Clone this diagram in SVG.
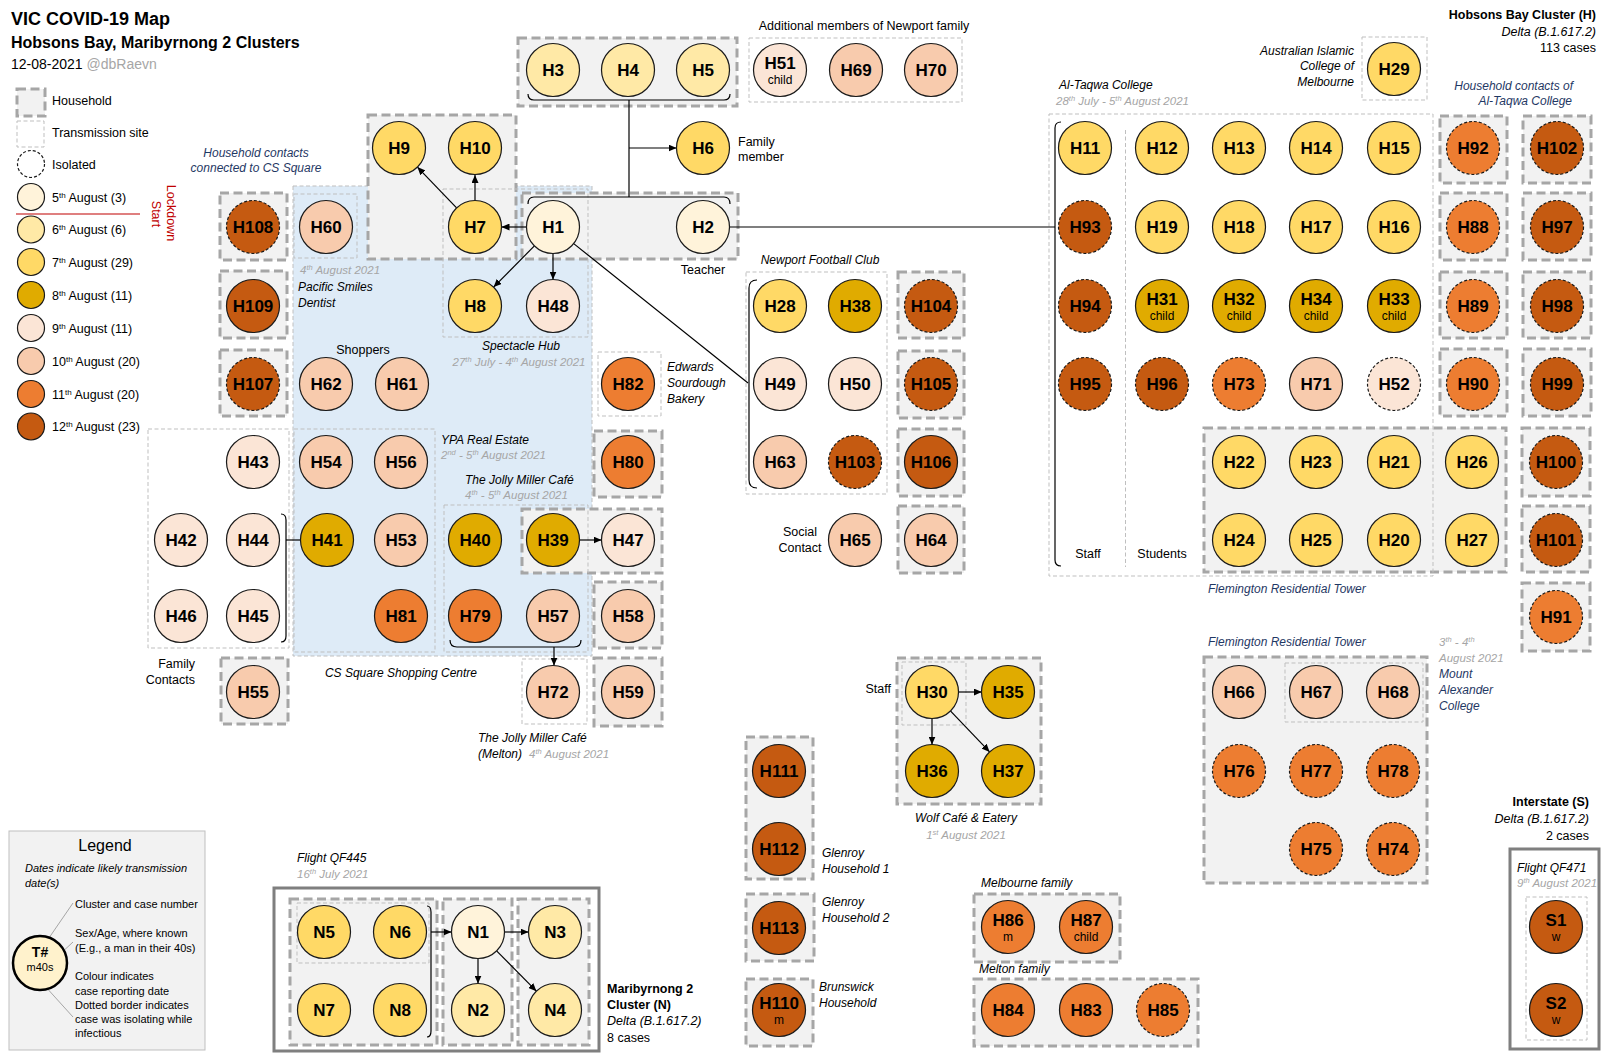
<svg xmlns="http://www.w3.org/2000/svg" width="1606" height="1058" viewBox="0 0 1606 1058">
<style>
text{font-family:"Liberation Sans",Arial,sans-serif;fill:#000}
.hh{fill:#F2F2F2;stroke:#A6A6A6;stroke-width:3;stroke-dasharray:9 4.5}
.ts{fill:none;stroke:#BFBFBF;stroke-width:1;stroke-dasharray:4 2.5}
.n{stroke:#1a1a1a;stroke-width:1.2}
.iso{stroke-dasharray:3 2}
.c5{fill:#FFF3DA}.c6{fill:#FFE9A6}.c7{fill:#FFD966}.c8{fill:#E0AB00}.c9{fill:#FBE5D6}.c10{fill:#F8CBAD}.c11{fill:#ED7D31}.c12{fill:#C55A11}
.t{font-size:17px;font-weight:bold;text-anchor:middle}
.s{font-size:12px;text-anchor:middle}
.l{font-size:12.5px}
.i{font-size:12px;font-style:italic}
.g{font-size:11.5px;font-style:italic;fill:#A6A6A6}
.nv{fill:#1F3864}
.mid{text-anchor:middle}.end{text-anchor:end}
.cn{fill:none;stroke:#000;stroke-width:1.2}
.ld{fill:none;stroke:#A6A6A6;stroke-width:1}
</style>
<defs>
<marker id="arr" viewBox="0 0 8 7" refX="8" refY="3.5" markerWidth="8" markerHeight="7" markerUnits="userSpaceOnUse" orient="auto"><path d="M0,0 L8,3.5 L0,7 z" fill="#000"/></marker>
</defs>
<rect width="1606" height="1058" fill="#fff"/>

<!-- Title -->
<g id="title">
<text x="11" y="25" font-size="18" font-weight="bold">VIC COVID-19 Map</text>
<text x="11" y="48" font-size="16" font-weight="bold">Hobsons Bay, Maribyrnong 2 Clusters</text>
<text x="11" y="69" font-size="14">12-08-2021 <tspan fill="#A6A6A6">@dbRaevn</tspan></text>
</g>

<!-- Top legend -->
<g id="legend-top">
<rect class="hh" x="17" y="89" width="28" height="27"/>
<text class="l" x="52" y="104.5">Household</text>
<rect class="ts" x="17" y="121" width="27" height="26"/>
<text class="l" x="52" y="136.5">Transmission site</text>
<circle cx="31" cy="164" r="13.5" fill="#fff" stroke="#1a1a1a" stroke-width="1.2" stroke-dasharray="3 2"/>
<text class="l" x="52" y="168.5">Isolated</text>
<circle class="n c5" cx="31" cy="197" r="13.5"/>
<text class="l" x="52" y="201.5">5<tspan dy="-4" font-size="8">th</tspan><tspan dy="4"> August (3)</tspan></text>
<line x1="16" y1="214" x2="140" y2="214" stroke="#C00000" stroke-width="1.2"/>
<circle class="n c6" cx="31" cy="229.5" r="13.5"/>
<text class="l" x="52" y="234">6<tspan dy="-4" font-size="8">th</tspan><tspan dy="4"> August (6)</tspan></text>
<circle class="n c7" cx="31" cy="262" r="13.5"/>
<text class="l" x="52" y="266.5">7<tspan dy="-4" font-size="8">th</tspan><tspan dy="4"> August (29)</tspan></text>
<circle class="n c8" cx="31" cy="295" r="13.5"/>
<text class="l" x="52" y="299.5">8<tspan dy="-4" font-size="8">th</tspan><tspan dy="4"> August (11)</tspan></text>
<circle class="n c9" cx="31" cy="328" r="13.5"/>
<text class="l" x="52" y="332.5">9<tspan dy="-4" font-size="8">th</tspan><tspan dy="4"> August (11)</tspan></text>
<circle class="n c10" cx="31" cy="361" r="13.5"/>
<text class="l" x="52" y="365.5">10<tspan dy="-4" font-size="8">th</tspan><tspan dy="4"> August (20)</tspan></text>
<circle class="n c11" cx="31" cy="394" r="13.5"/>
<text class="l" x="52" y="398.5">11<tspan dy="-4" font-size="8">th</tspan><tspan dy="4"> August (20)</tspan></text>
<circle class="n c12" cx="31" cy="426.5" r="13.5"/>
<text class="l" x="52" y="431">12<tspan dy="-4" font-size="8">th</tspan><tspan dy="4"> August (23)</tspan></text>
<text class="l mid" style="fill:#C00000" transform="translate(167,213) rotate(90)">Lockdown</text>
<text class="l mid" style="fill:#C00000" transform="translate(152,214) rotate(90)">Start</text>
</g>

<!-- Containers -->
<g id="containers">
<rect x="293" y="186" width="299" height="470" fill="#DEEBF7" stroke="#BFBFBF" stroke-width="1" stroke-dasharray="4 2.5"/>
<rect class="hh" x="518" y="38" width="219" height="68"/>
<rect class="ts" x="749" y="38" width="213" height="64"/>
<rect class="hh" x="368" y="115" width="148" height="144"/>
<rect class="hh" x="522" y="193" width="216" height="66"/>
<rect class="hh" x="220" y="193" width="67" height="67"/>
<rect class="hh" x="220" y="271" width="67" height="67"/>
<rect class="hh" x="220" y="350" width="67" height="66"/>
<rect class="hh" x="221" y="658" width="67" height="66"/>
<rect class="ts" x="294" y="194" width="63" height="64"/>
<rect class="ts" x="443" y="189" width="145" height="148"/>
<rect class="ts" x="294" y="429" width="141" height="223"/>
<rect class="ts" x="148" y="429" width="141" height="219"/>
<rect class="hh" x="522" y="509" width="140" height="64"/>
<rect class="ts" x="444" y="505" width="144" height="147"/>
<rect class="ts" x="598" y="352" width="63" height="64"/>
<rect class="hh" x="594" y="431" width="68" height="66"/>
<rect class="hh" x="594" y="582" width="68" height="66"/>
<rect class="hh" x="594" y="658" width="68" height="68"/>
<rect class="ts" x="522" y="659" width="65" height="65"/>
<rect class="ts" x="746" y="272" width="141" height="222"/>
<rect class="hh" x="898" y="272" width="66" height="66"/>
<rect class="hh" x="898" y="351" width="66" height="67"/>
<rect class="hh" x="898" y="429" width="66" height="67"/>
<rect class="hh" x="898" y="506" width="66" height="67"/>
<rect class="ts" x="1362" y="37" width="65" height="63"/>
<rect class="hh" x="1204" y="428" width="302" height="144"/>
<rect class="ts" x="1049" y="114" width="384" height="462"/>
<line x1="1125.5" y1="130" x2="1125.5" y2="567" stroke="#BFBFBF" stroke-width="1" stroke-dasharray="4 2.5"/>
<rect class="hh" x="1440" y="116" width="67" height="67"/>
<rect class="hh" x="1440" y="193" width="67" height="67"/>
<rect class="hh" x="1440" y="272" width="67" height="66"/>
<rect class="hh" x="1440" y="349" width="67" height="67"/>
<rect class="hh" x="1523" y="116" width="68" height="67"/>
<rect class="hh" x="1523" y="193" width="68" height="67"/>
<rect class="hh" x="1523" y="272" width="68" height="66"/>
<rect class="hh" x="1523" y="349" width="68" height="67"/>
<rect class="hh" x="1522" y="428" width="68" height="68"/>
<rect class="hh" x="1522" y="506" width="68" height="66"/>
<rect class="hh" x="1522" y="583" width="68" height="68"/>
<rect class="hh" x="1204" y="657" width="223" height="226"/>
<rect class="ts" x="1285" y="663" width="138" height="59"/>
<rect x="1510" y="849" width="89" height="200" fill="none" stroke="#7F7F7F" stroke-width="3"/>
<rect class="ts" x="1526" y="897" width="61" height="143"/>
<rect class="hh" x="897" y="658" width="144" height="146"/>
<rect class="ts" x="902" y="662" width="64" height="63"/>
<rect class="hh" x="746" y="737" width="67" height="142"/>
<rect class="hh" x="746" y="894" width="68" height="67"/>
<rect class="hh" x="746" y="979" width="67" height="67"/>
<rect class="hh" x="974" y="894" width="146" height="68"/>
<rect class="hh" x="974" y="979" width="224" height="67"/>
<rect x="274" y="888" width="325" height="163" fill="none" stroke="#7F7F7F" stroke-width="3"/>
<rect class="hh" x="290" y="899" width="147" height="146"/>
<rect class="hh" x="443" y="899" width="69" height="146"/>
<rect class="hh" x="518" y="899" width="71" height="146"/>
<rect class="ts" x="297" y="903" width="132" height="60"/>
<rect x="9" y="831" width="196" height="219" fill="#F2F2F2" stroke="#BFBFBF" stroke-width="1"/>
</g>

<!-- Connectors -->
<g id="connectors">
<path class="cn" d="M528,94 Q528,100 534,100 L724,100 Q730,100 730,94"/>
<path class="cn" d="M629,100 L629,197"/>
<path class="cn" d="M629,148 L676.5,148" marker-end="url(#arr)"/>
<path class="cn" d="M528,204 Q528,197 534,197 L724,197 Q730,197 730,204"/>
<path class="cn" d="M526.5,227 L501.5,227" marker-end="url(#arr)"/>
<path class="cn" d="M475,200.5 L475,175" marker-end="url(#arr)"/>
<path class="cn" d="M456.6,207.9 L417.4,167.1" marker-end="url(#arr)"/>
<path class="cn" d="M534.4,245.9 L493.6,287.1" marker-end="url(#arr)"/>
<path class="cn" d="M553,253.5 L553,279.5" marker-end="url(#arr)"/>
<path class="cn" d="M573.7,243.6 L748,383" stroke-width="1"/>
<path class="cn" d="M757,280 Q749,280 749,288 L749,480 Q749,488 757,488"/>
<path class="cn" d="M729.5,227 L1055,227"/>
<path class="cn" d="M1061,122 Q1055,122 1055,128 L1055,560 Q1055,566 1061,566"/>
<path class="cn" d="M281,514 Q286,514 286,520 L286,636 Q286,642 281,642"/>
<path class="cn" d="M286,540 L300.5,540"/>
<path class="cn" d="M579.5,540 L601.5,540" marker-end="url(#arr)"/>
<path class="cn" d="M450,640 Q450,647 457,647 L574,647 Q581,647 581,640"/>
<path class="cn" d="M554,647 L554,665.5" marker-end="url(#arr)"/>
<path class="cn" d="M958.2,692 L981.8,692" marker-end="url(#arr)"/>
<path class="cn" d="M932,718.5 L932,744.5" marker-end="url(#arr)"/>
<path class="cn" d="M950.4,710.8 L989.6,751.9" marker-end="url(#arr)"/>
<path class="cn" d="M427,906 Q431,906 431,912 L431,1031 Q431,1037 427,1037"/>
<path class="cn" d="M431,932 L451.5,932" marker-end="url(#arr)"/>
<path class="cn" d="M504.5,932 L528.5,932" marker-end="url(#arr)"/>
<path class="cn" d="M478,958.5 L478,983.5" marker-end="url(#arr)"/>
<path class="cn" d="M496.6,950.8 L536.4,991.2" marker-end="url(#arr)"/>
</g>

<!-- Labels -->
<g id="labels">
<text class="i nv mid" x="256" y="157">Household contacts</text>
<text class="i nv mid" x="256" y="172">connected to CS Square</text>
<text class="g" x="300" y="274">4<tspan dy="-4" font-size="7.5">th</tspan><tspan dy="4"> August 2021</tspan></text>
<text class="i" x="298" y="291">Pacific Smiles</text>
<text class="i" x="298" y="307">Dentist</text>
<text class="l mid" x="363" y="353.5">Shoppers</text>
<text class="i mid" x="521" y="350">Spectacle Hub</text>
<text class="g mid" x="519" y="366">27<tspan dy="-4" font-size="7.5">th</tspan><tspan dy="4"> July - 4</tspan><tspan dy="-4" font-size="7.5">th</tspan><tspan dy="4"> August 2021</tspan></text>
<text class="i" x="441" y="444">YPA Real Estate</text>
<text class="g" x="441" y="459">2<tspan dy="-4" font-size="7.5">nd</tspan><tspan dy="4"> - 5</tspan><tspan dy="-4" font-size="7.5">th</tspan><tspan dy="4"> August 2021</tspan></text>
<text class="i" x="465" y="484">The Jolly Miller Café</text>
<text class="g" x="465" y="499">4<tspan dy="-4" font-size="7.5">th</tspan><tspan dy="4"> - 5</tspan><tspan dy="-4" font-size="7.5">th</tspan><tspan dy="4"> August 2021</tspan></text>
<text class="i mid" x="401" y="677">CS Square Shopping Centre</text>
<text class="l end" x="195" y="668">Family</text>
<text class="l end" x="195" y="684">Contacts</text>
<text class="i" x="478" y="741.5">The Jolly Miller Café</text>
<text class="i" x="478" y="757.5">(Melton)</text>
<text class="g" x="529" y="757.5">4<tspan dy="-4" font-size="7.5">th</tspan><tspan dy="4"> August 2021</tspan></text>
<text class="i" x="667" y="371">Edwards</text>
<text class="i" x="667" y="387">Sourdough</text>
<text class="i" x="667" y="403">Bakery</text>
<text class="l mid" x="864" y="30">Additional members of Newport family</text>
<text class="l" x="738" y="145.5">Family</text>
<text class="l" x="738" y="161">member</text>
<text class="l mid" x="703" y="274">Teacher</text>
<text class="i mid" x="820" y="264">Newport Football Club</text>
<text class="l mid" x="800" y="535.5">Social</text>
<text class="l mid" x="800" y="551.5">Contact</text>
<text class="i end" x="1354" y="54.5">Australian Islamic</text>
<text class="i end" x="1354" y="70">College of</text>
<text class="i end" x="1354" y="86">Melbourne</text>
<text class="l end" x="1596" y="18.5" font-weight="bold">Hobsons Bay Cluster (H)</text>
<text class="l end" x="1596" y="35.5" font-style="italic">Delta (B.1.617.2)</text>
<text class="l end" x="1596" y="52">113 cases</text>
<text class="i nv end" x="1573" y="89.5">Household contacts of</text>
<text class="i nv end" x="1572" y="105">Al-Taqwa College</text>
<text class="i" x="1059" y="88.5">Al-Taqwa College</text>
<text class="g" x="1056" y="104.5">28<tspan dy="-4" font-size="7.5">th</tspan><tspan dy="4"> July - 5</tspan><tspan dy="-4" font-size="7.5">th</tspan><tspan dy="4"> August 2021</tspan></text>
<text class="l mid" x="1088" y="558" font-size="12">Staff</text>
<text class="l mid" x="1162" y="558" font-size="12">Students</text>
<text class="i nv" x="1208" y="593">Flemington Residential Tower</text>
<text class="i nv" x="1208" y="646">Flemington Residential Tower</text>
<text class="g" x="1439" y="646">3<tspan dy="-4" font-size="7.5">th</tspan><tspan dy="4"> - 4</tspan><tspan dy="-4" font-size="7.5">th</tspan></text>
<text class="g" x="1439" y="662">August 2021</text>
<text class="i nv" x="1439" y="678">Mount</text>
<text class="i nv" x="1439" y="694">Alexander</text>
<text class="i nv" x="1439" y="710">College</text>
<text class="l end" x="1589" y="806" font-weight="bold">Interstate (S)</text>
<text class="l end" x="1589" y="823" font-style="italic">Delta (B.1.617.2)</text>
<text class="l end" x="1589" y="840">2 cases</text>
<text class="i" x="1517" y="872">Flight QF471</text>
<text class="g" x="1517" y="887">9<tspan dy="-4" font-size="7.5">th</tspan><tspan dy="4"> August 2021</tspan></text>
<text class="l end" x="891" y="693">Staff</text>
<text class="i mid" x="966" y="822">Wolf Café &amp; Eatery</text>
<text class="g mid" x="966" y="839">1<tspan dy="-4" font-size="7.5">st</tspan><tspan dy="4"> August 2021</tspan></text>
<text class="i" x="822" y="857">Glenroy</text>
<text class="i" x="822" y="873">Household 1</text>
<text class="i" x="822" y="906">Glenroy</text>
<text class="i" x="822" y="922">Household 2</text>
<text class="i" x="819" y="991">Brunswick</text>
<text class="i" x="819" y="1007">Household</text>
<text class="i" x="981" y="887">Melbourne family</text>
<text class="i" x="979" y="973">Melton family</text>
<text class="i" x="297" y="862">Flight QF445</text>
<text class="g" x="297" y="878">16<tspan dy="-4" font-size="7.5">th</tspan><tspan dy="4"> July 2021</tspan></text>
<text class="l" x="607" y="993" font-weight="bold">Maribyrnong 2</text>
<text class="l" x="607" y="1009" font-weight="bold">Cluster (N)</text>
<text class="l" x="607" y="1025" font-style="italic">Delta (B.1.617.2)</text>
<text class="l" x="607" y="1042">8 cases</text>
</g>

<!-- Bottom legend -->
<g id="legend-bottom">
<text x="105" y="851" font-size="16" text-anchor="middle">Legend</text>
<text x="25" y="872" font-size="11" font-style="italic" fill="#A6A6A6">Dates indicate likely transmission</text>
<text x="25" y="887" font-size="11" font-style="italic" fill="#A6A6A6">date(s)</text>
<line class="ld" x1="45.5" y1="943" x2="73" y2="903"/>
<line class="ld" x1="59" y1="955" x2="73" y2="942"/>
<line class="ld" x1="39.5" y1="980" x2="73" y2="1017"/>
<circle cx="40" cy="963" r="27" fill="#FFF2CC" stroke="#000" stroke-width="2.5"/>
<text x="40" y="956.5" font-size="14" font-weight="bold" text-anchor="middle">T#</text>
<text x="40" y="971" font-size="11" text-anchor="middle">m40s</text>
<text x="75" y="908" font-size="11">Cluster and case number</text>
<text x="75" y="937" font-size="11">Sex/Age, where known</text>
<text x="75" y="952" font-size="11">(E.g., a man in their 40s)</text>
<text x="75" y="980" font-size="11">Colour indicates</text>
<text x="75" y="995" font-size="11">case reporting date</text>
<text x="75" y="1009" font-size="11">Dotted border indicates</text>
<text x="75" y="1023" font-size="11">case was isolating while</text>
<text x="75" y="1037" font-size="11">infectious</text>
</g>

<!-- Nodes -->
<g id="nodes">
<g id="H1"><circle class="n c5" cx="553" cy="227" r="26.5"/><text class="t" x="553" y="233">H1</text></g>
<g id="H2"><circle class="n c5" cx="703" cy="227" r="26.5"/><text class="t" x="703" y="233">H2</text></g>
<g id="H3"><circle class="n c6" cx="553" cy="70" r="26.5"/><text class="t" x="553" y="76">H3</text></g>
<g id="H4"><circle class="n c6" cx="628" cy="70" r="26.5"/><text class="t" x="628" y="76">H4</text></g>
<g id="H5"><circle class="n c6" cx="703" cy="70" r="26.5"/><text class="t" x="703" y="76">H5</text></g>
<g id="H51"><circle class="n c9" cx="780" cy="70" r="26.5"/><text class="t" x="780" y="69">H51</text><text class="s" x="780" y="84">child</text></g>
<g id="H69"><circle class="n c10" cx="856" cy="70" r="26.5"/><text class="t" x="856" y="76">H69</text></g>
<g id="H70"><circle class="n c10" cx="931" cy="70" r="26.5"/><text class="t" x="931" y="76">H70</text></g>
<g id="H6"><circle class="n c7" cx="703" cy="148" r="26.5"/><text class="t" x="703" y="154">H6</text></g>
<g id="H9"><circle class="n c7" cx="399" cy="148" r="26.5"/><text class="t" x="399" y="154">H9</text></g>
<g id="H10"><circle class="n c7" cx="475" cy="148" r="26.5"/><text class="t" x="475" y="154">H10</text></g>
<g id="H7"><circle class="n c7" cx="475" cy="227" r="26.5"/><text class="t" x="475" y="233">H7</text></g>
<g id="H8"><circle class="n c7" cx="475" cy="306" r="26.5"/><text class="t" x="475" y="312">H8</text></g>
<g id="H48"><circle class="n c9" cx="553" cy="306" r="26.5"/><text class="t" x="553" y="312">H48</text></g>
<g id="H108"><circle class="n c12 iso" cx="253" cy="227" r="26.5"/><text class="t" x="253" y="233">H108</text></g>
<g id="H109"><circle class="n c12" cx="253" cy="306" r="26.5"/><text class="t" x="253" y="312">H109</text></g>
<g id="H107"><circle class="n c12 iso" cx="253" cy="384" r="26.5"/><text class="t" x="253" y="390">H107</text></g>
<g id="H60"><circle class="n c10" cx="326" cy="227" r="26.5"/><text class="t" x="326" y="233">H60</text></g>
<g id="H62"><circle class="n c10" cx="326" cy="384" r="26.5"/><text class="t" x="326" y="390">H62</text></g>
<g id="H61"><circle class="n c10" cx="402" cy="384" r="26.5"/><text class="t" x="402" y="390">H61</text></g>
<g id="H43"><circle class="n c9" cx="253" cy="462" r="26.5"/><text class="t" x="253" y="468">H43</text></g>
<g id="H54"><circle class="n c10" cx="326" cy="462" r="26.5"/><text class="t" x="326" y="468">H54</text></g>
<g id="H56"><circle class="n c10" cx="401" cy="462" r="26.5"/><text class="t" x="401" y="468">H56</text></g>
<g id="H42"><circle class="n c9" cx="181" cy="540" r="26.5"/><text class="t" x="181" y="546">H42</text></g>
<g id="H44"><circle class="n c9" cx="253" cy="540" r="26.5"/><text class="t" x="253" y="546">H44</text></g>
<g id="H41"><circle class="n c8" cx="327" cy="540" r="26.5"/><text class="t" x="327" y="546">H41</text></g>
<g id="H53"><circle class="n c10" cx="401" cy="540" r="26.5"/><text class="t" x="401" y="546">H53</text></g>
<g id="H40"><circle class="n c8" cx="475" cy="540" r="26.5"/><text class="t" x="475" y="546">H40</text></g>
<g id="H39"><circle class="n c8" cx="553" cy="540" r="26.5"/><text class="t" x="553" y="546">H39</text></g>
<g id="H47"><circle class="n c9" cx="628" cy="540" r="26.5"/><text class="t" x="628" y="546">H47</text></g>
<g id="H46"><circle class="n c9" cx="181" cy="616" r="26.5"/><text class="t" x="181" y="622">H46</text></g>
<g id="H45"><circle class="n c9" cx="253" cy="616" r="26.5"/><text class="t" x="253" y="622">H45</text></g>
<g id="H81"><circle class="n c11" cx="401" cy="616" r="26.5"/><text class="t" x="401" y="622">H81</text></g>
<g id="H79"><circle class="n c11" cx="475" cy="616" r="26.5"/><text class="t" x="475" y="622">H79</text></g>
<g id="H57"><circle class="n c10" cx="553" cy="616" r="26.5"/><text class="t" x="553" y="622">H57</text></g>
<g id="H58"><circle class="n c10" cx="628" cy="616" r="26.5"/><text class="t" x="628" y="622">H58</text></g>
<g id="H55"><circle class="n c10" cx="253" cy="692" r="26.5"/><text class="t" x="253" y="698">H55</text></g>
<g id="H72"><circle class="n c10" cx="553" cy="692" r="26.5"/><text class="t" x="553" y="698">H72</text></g>
<g id="H59"><circle class="n c10" cx="628" cy="692" r="26.5"/><text class="t" x="628" y="698">H59</text></g>
<g id="H82"><circle class="n c11" cx="628" cy="384" r="26.5"/><text class="t" x="628" y="390">H82</text></g>
<g id="H80"><circle class="n c11" cx="628" cy="462" r="26.5"/><text class="t" x="628" y="468">H80</text></g>

<g id="H28"><circle class="n c7" cx="780" cy="306" r="26.5"/><text class="t" x="780" y="312">H28</text></g>
<g id="H38"><circle class="n c8" cx="855" cy="306" r="26.5"/><text class="t" x="855" y="312">H38</text></g>
<g id="H49"><circle class="n c9" cx="780" cy="384" r="26.5"/><text class="t" x="780" y="390">H49</text></g>
<g id="H50"><circle class="n c9" cx="855" cy="384" r="26.5"/><text class="t" x="855" y="390">H50</text></g>
<g id="H63"><circle class="n c10" cx="780" cy="462" r="26.5"/><text class="t" x="780" y="468">H63</text></g>
<g id="H103"><circle class="n c12 iso" cx="855" cy="462" r="26.5"/><text class="t" x="855" y="468">H103</text></g>
<g id="H104"><circle class="n c12 iso" cx="931" cy="306" r="26.5"/><text class="t" x="931" y="312">H104</text></g>
<g id="H105"><circle class="n c12 iso" cx="931" cy="384" r="26.5"/><text class="t" x="931" y="390">H105</text></g>
<g id="H106"><circle class="n c12" cx="931" cy="462" r="26.5"/><text class="t" x="931" y="468">H106</text></g>
<g id="H65"><circle class="n c10" cx="855" cy="540" r="26.5"/><text class="t" x="855" y="546">H65</text></g>
<g id="H64"><circle class="n c10" cx="931" cy="540" r="26.5"/><text class="t" x="931" y="546">H64</text></g>

<g id="H29"><circle class="n c7" cx="1394" cy="69" r="26.5"/><text class="t" x="1394" y="75">H29</text></g>
<g id="H11"><circle class="n c7" cx="1085" cy="148" r="26.5"/><text class="t" x="1085" y="154">H11</text></g>
<g id="H12"><circle class="n c7" cx="1162" cy="148" r="26.5"/><text class="t" x="1162" y="154">H12</text></g>
<g id="H13"><circle class="n c7" cx="1239" cy="148" r="26.5"/><text class="t" x="1239" y="154">H13</text></g>
<g id="H14"><circle class="n c7" cx="1316" cy="148" r="26.5"/><text class="t" x="1316" y="154">H14</text></g>
<g id="H15"><circle class="n c7" cx="1394" cy="148" r="26.5"/><text class="t" x="1394" y="154">H15</text></g>
<g id="H93"><circle class="n c12 iso" cx="1085" cy="227" r="26.5"/><text class="t" x="1085" y="233">H93</text></g>
<g id="H19"><circle class="n c7" cx="1162" cy="227" r="26.5"/><text class="t" x="1162" y="233">H19</text></g>
<g id="H18"><circle class="n c7" cx="1239" cy="227" r="26.5"/><text class="t" x="1239" y="233">H18</text></g>
<g id="H17"><circle class="n c7" cx="1316" cy="227" r="26.5"/><text class="t" x="1316" y="233">H17</text></g>
<g id="H16"><circle class="n c7" cx="1394" cy="227" r="26.5"/><text class="t" x="1394" y="233">H16</text></g>
<g id="H94"><circle class="n c12 iso" cx="1085" cy="306" r="26.5"/><text class="t" x="1085" y="312">H94</text></g>
<g id="H31"><circle class="n c8" cx="1162" cy="306" r="26.5"/><text class="t" x="1162" y="305">H31</text><text class="s" x="1162" y="320">child</text></g>
<g id="H32"><circle class="n c8" cx="1239" cy="306" r="26.5"/><text class="t" x="1239" y="305">H32</text><text class="s" x="1239" y="320">child</text></g>
<g id="H34"><circle class="n c8" cx="1316" cy="306" r="26.5"/><text class="t" x="1316" y="305">H34</text><text class="s" x="1316" y="320">child</text></g>
<g id="H33"><circle class="n c8" cx="1394" cy="306" r="26.5"/><text class="t" x="1394" y="305">H33</text><text class="s" x="1394" y="320">child</text></g>
<g id="H95"><circle class="n c12 iso" cx="1085" cy="384" r="26.5"/><text class="t" x="1085" y="390">H95</text></g>
<g id="H96"><circle class="n c12 iso" cx="1162" cy="384" r="26.5"/><text class="t" x="1162" y="390">H96</text></g>
<g id="H73"><circle class="n c11 iso" cx="1239" cy="384" r="26.5"/><text class="t" x="1239" y="390">H73</text></g>
<g id="H71"><circle class="n c10" cx="1316" cy="384" r="26.5"/><text class="t" x="1316" y="390">H71</text></g>
<g id="H52"><circle class="n c9 iso" cx="1394" cy="384" r="26.5"/><text class="t" x="1394" y="390">H52</text></g>
<g id="H22"><circle class="n c7" cx="1239" cy="462" r="26.5"/><text class="t" x="1239" y="468">H22</text></g>
<g id="H23"><circle class="n c7" cx="1316" cy="462" r="26.5"/><text class="t" x="1316" y="468">H23</text></g>
<g id="H21"><circle class="n c7" cx="1394" cy="462" r="26.5"/><text class="t" x="1394" y="468">H21</text></g>
<g id="H26"><circle class="n c7" cx="1472" cy="462" r="26.5"/><text class="t" x="1472" y="468">H26</text></g>
<g id="H24"><circle class="n c7" cx="1239" cy="540" r="26.5"/><text class="t" x="1239" y="546">H24</text></g>
<g id="H25"><circle class="n c7" cx="1316" cy="540" r="26.5"/><text class="t" x="1316" y="546">H25</text></g>
<g id="H20"><circle class="n c7" cx="1394" cy="540" r="26.5"/><text class="t" x="1394" y="546">H20</text></g>
<g id="H27"><circle class="n c7" cx="1472" cy="540" r="26.5"/><text class="t" x="1472" y="546">H27</text></g>
<g id="H92"><circle class="n c11 iso" cx="1473" cy="148" r="26.5"/><text class="t" x="1473" y="154">H92</text></g>
<g id="H88"><circle class="n c11 iso" cx="1473" cy="227" r="26.5"/><text class="t" x="1473" y="233">H88</text></g>
<g id="H89"><circle class="n c11 iso" cx="1473" cy="306" r="26.5"/><text class="t" x="1473" y="312">H89</text></g>
<g id="H90"><circle class="n c11 iso" cx="1473" cy="384" r="26.5"/><text class="t" x="1473" y="390">H90</text></g>
<g id="H102"><circle class="n c12 iso" cx="1557" cy="148" r="26.5"/><text class="t" x="1557" y="154">H102</text></g>
<g id="H97"><circle class="n c12 iso" cx="1557" cy="227" r="26.5"/><text class="t" x="1557" y="233">H97</text></g>
<g id="H98"><circle class="n c12 iso" cx="1557" cy="306" r="26.5"/><text class="t" x="1557" y="312">H98</text></g>
<g id="H99"><circle class="n c12 iso" cx="1557" cy="384" r="26.5"/><text class="t" x="1557" y="390">H99</text></g>
<g id="H100"><circle class="n c12 iso" cx="1556" cy="462" r="26.5"/><text class="t" x="1556" y="468">H100</text></g>
<g id="H101"><circle class="n c12 iso" cx="1556" cy="540" r="26.5"/><text class="t" x="1556" y="546">H101</text></g>
<g id="H91"><circle class="n c11 iso" cx="1556" cy="617" r="26.5"/><text class="t" x="1556" y="623">H91</text></g>

<g id="H66"><circle class="n c10" cx="1239" cy="692" r="26.5"/><text class="t" x="1239" y="698">H66</text></g>
<g id="H67"><circle class="n c10" cx="1316" cy="692" r="26.5"/><text class="t" x="1316" y="698">H67</text></g>
<g id="H68"><circle class="n c10" cx="1393" cy="692" r="26.5"/><text class="t" x="1393" y="698">H68</text></g>
<g id="H76"><circle class="n c11 iso" cx="1239" cy="771" r="26.5"/><text class="t" x="1239" y="777">H76</text></g>
<g id="H77"><circle class="n c11 iso" cx="1316" cy="771" r="26.5"/><text class="t" x="1316" y="777">H77</text></g>
<g id="H78"><circle class="n c11 iso" cx="1393" cy="771" r="26.5"/><text class="t" x="1393" y="777">H78</text></g>
<g id="H75"><circle class="n c11 iso" cx="1316" cy="849" r="26.5"/><text class="t" x="1316" y="855">H75</text></g>
<g id="H74"><circle class="n c11 iso" cx="1393" cy="849" r="26.5"/><text class="t" x="1393" y="855">H74</text></g>
<g id="S1"><circle class="n c12" cx="1556" cy="927" r="26.5"/><text class="t" x="1556" y="926">S1</text><text class="s" x="1556" y="941">w</text></g>
<g id="S2"><circle class="n c12" cx="1556" cy="1010" r="26.5"/><text class="t" x="1556" y="1009">S2</text><text class="s" x="1556" y="1024">w</text></g>

<g id="H30"><circle class="n c7" cx="932" cy="692" r="26.5"/><text class="t" x="932" y="698">H30</text></g>
<g id="H35"><circle class="n c8" cx="1008" cy="692" r="26.5"/><text class="t" x="1008" y="698">H35</text></g>
<g id="H36"><circle class="n c8" cx="932" cy="771" r="26.5"/><text class="t" x="932" y="777">H36</text></g>
<g id="H37"><circle class="n c8" cx="1008" cy="771" r="26.5"/><text class="t" x="1008" y="777">H37</text></g>
<g id="H111"><circle class="n c12" cx="779" cy="771" r="26.5"/><text class="t" x="779" y="777">H111</text></g>
<g id="H112"><circle class="n c12" cx="779" cy="849" r="26.5"/><text class="t" x="779" y="855">H112</text></g>
<g id="H113"><circle class="n c12" cx="779" cy="928" r="26.5"/><text class="t" x="779" y="934">H113</text></g>
<g id="H110"><circle class="n c12" cx="779" cy="1010" r="26.5"/><text class="t" x="779" y="1009">H110</text><text class="s" x="779" y="1024">m</text></g>
<g id="H86"><circle class="n c11" cx="1008" cy="927" r="26.5"/><text class="t" x="1008" y="926">H86</text><text class="s" x="1008" y="941">m</text></g>
<g id="H87"><circle class="n c11" cx="1086" cy="927" r="26.5"/><text class="t" x="1086" y="926">H87</text><text class="s" x="1086" y="941">child</text></g>
<g id="H84"><circle class="n c11" cx="1008" cy="1010" r="26.5"/><text class="t" x="1008" y="1016">H84</text></g>
<g id="H83"><circle class="n c11" cx="1086" cy="1010" r="26.5"/><text class="t" x="1086" y="1016">H83</text></g>
<g id="H85"><circle class="n c11 iso" cx="1163" cy="1010" r="26.5"/><text class="t" x="1163" y="1016">H85</text></g>

<g id="N5"><circle class="n c7" cx="324" cy="932" r="26.5"/><text class="t" x="324" y="938">N5</text></g>
<g id="N6"><circle class="n c7" cx="400" cy="932" r="26.5"/><text class="t" x="400" y="938">N6</text></g>
<g id="N7"><circle class="n c7" cx="324" cy="1010" r="26.5"/><text class="t" x="324" y="1016">N7</text></g>
<g id="N8"><circle class="n c7" cx="400" cy="1010" r="26.5"/><text class="t" x="400" y="1016">N8</text></g>
<g id="N1"><circle class="n c5" cx="478" cy="932" r="26.5"/><text class="t" x="478" y="938">N1</text></g>
<g id="N2"><circle class="n c6" cx="478" cy="1010" r="26.5"/><text class="t" x="478" y="1016">N2</text></g>
<g id="N3"><circle class="n c6" cx="555" cy="932" r="26.5"/><text class="t" x="555" y="938">N3</text></g>
<g id="N4"><circle class="n c6" cx="555" cy="1010" r="26.5"/><text class="t" x="555" y="1016">N4</text></g>
</g>
</svg>
